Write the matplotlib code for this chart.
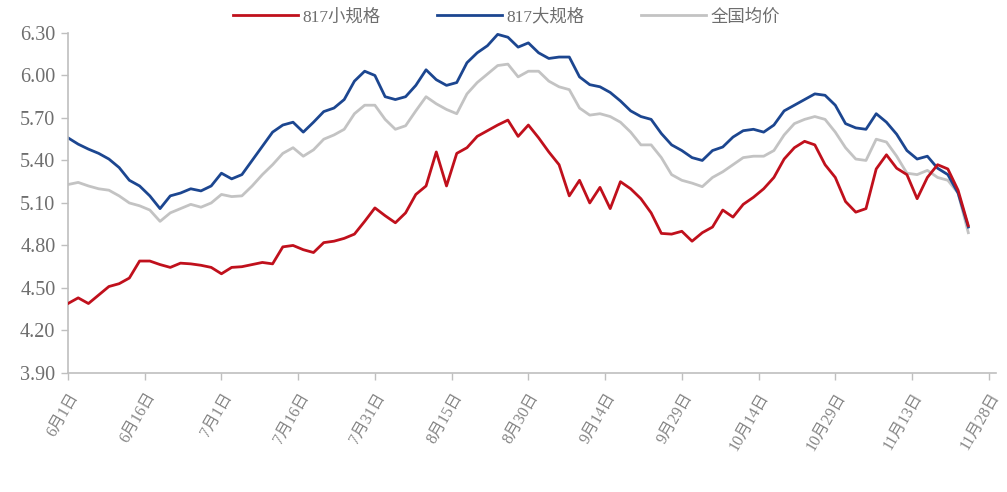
import numpy as np
import matplotlib
matplotlib.use("Agg")
from matplotlib import pyplot as plt

# days since 6月1日, one reading every two days
days = np.arange(0, 178, 2)

small_817 = [
    4.39, 4.43, 4.39, 4.45, 4.51, 4.53, 4.57, 4.69, 4.69, 4.665,
    4.645, 4.675, 4.67, 4.66, 4.645, 4.60, 4.645, 4.65, 4.665, 4.68,
    4.67, 4.79, 4.80, 4.77, 4.75, 4.82, 4.83, 4.85, 4.88, 4.97,
    5.065, 5.01, 4.96, 5.03, 5.16, 5.22, 5.46, 5.22, 5.45, 5.49,
    5.57, 5.61, 5.65, 5.685, 5.57, 5.65, 5.56, 5.46, 5.37, 5.15,
    5.26, 5.10, 5.21, 5.06, 5.25, 5.20, 5.13, 5.03, 4.885, 4.88,
    4.90, 4.83, 4.89, 4.93, 5.05, 5.00, 5.09, 5.14, 5.20, 5.28,
    5.41, 5.49, 5.535, 5.51, 5.37, 5.28, 5.11, 5.035, 5.06, 5.34,
    5.44, 5.345, 5.30, 5.13, 5.28, 5.37, 5.34, 5.19, 4.94,
]
large_817 = [
    5.56, 5.515, 5.48, 5.45, 5.41, 5.35, 5.26, 5.22, 5.15, 5.06,
    5.15, 5.17, 5.20, 5.185, 5.22, 5.31, 5.27, 5.30, 5.40, 5.50,
    5.60, 5.65, 5.67, 5.60, 5.67, 5.745, 5.77, 5.83, 5.96, 6.03,
    6.00, 5.85, 5.83, 5.85, 5.93, 6.04, 5.97, 5.93, 5.95, 6.09,
    6.16, 6.21, 6.29, 6.27, 6.20, 6.23, 6.16, 6.12, 6.13, 6.13,
    5.99, 5.935, 5.92, 5.88, 5.82, 5.75, 5.71, 5.69, 5.59, 5.51,
    5.47, 5.42, 5.40, 5.47, 5.495, 5.565, 5.61, 5.62, 5.60, 5.65,
    5.75, 5.79, 5.83, 5.87, 5.86, 5.79, 5.66, 5.63, 5.62, 5.73,
    5.67, 5.585, 5.47, 5.41, 5.43, 5.345, 5.30, 5.17, 4.93,
]
national_avg = [
    5.23, 5.245, 5.22, 5.20, 5.19, 5.15, 5.10, 5.08, 5.05, 4.97,
    5.03, 5.06, 5.09, 5.07, 5.10, 5.16, 5.145, 5.15, 5.22, 5.30,
    5.37, 5.45, 5.49, 5.43, 5.475, 5.55, 5.58, 5.62, 5.73, 5.79,
    5.79, 5.69, 5.62, 5.645, 5.75, 5.85, 5.80, 5.76, 5.73, 5.87,
    5.95, 6.01, 6.07, 6.08, 5.99, 6.03, 6.03, 5.96, 5.92, 5.90,
    5.77, 5.72, 5.73, 5.71, 5.67, 5.60, 5.51, 5.51, 5.42, 5.30,
    5.26, 5.24, 5.215, 5.28, 5.32, 5.37, 5.42, 5.43, 5.43, 5.47,
    5.58, 5.66, 5.69, 5.71, 5.69, 5.60, 5.49, 5.41, 5.40, 5.55,
    5.53, 5.43, 5.31, 5.30, 5.33, 5.28, 5.26, 5.17, 4.89,
]

tick_days = np.arange(0, 181, 15)
tick_labels = ['6月1日', '6月16日', '7月1日', '7月16日', '7月31日', '8月15日', '8月30日',
               '9月14日', '9月29日', '10月14日', '10月29日', '11月13日', '11月28日']
y_ticks = np.arange(3.90, 6.31, 0.30)

RED = '#c0101c'
BLUE = '#1c4690'
GRAY = '#c3c3c3'
AXIS = '#bfbfbf'
TEXT = '#6e6e6e'
FONTS = ['Liberation Serif', 'Noto Sans CJK SC']

fig = plt.figure(figsize=(10.07, 4.92), dpi=100)
ax = fig.add_axes([0.0675, 0.242, 0.922, 0.691])

l3, = ax.plot(days, national_avg, color=GRAY, lw=2.0, zorder=1)
l2, = ax.plot(days, large_817, color=BLUE, lw=2.0, zorder=2)
l1, = ax.plot(days, small_817, color=RED, lw=2.0, zorder=3)

ax.set_xlim(0, 181.5)
ax.set_ylim(3.90, 6.30)
ax.set_yticks(y_ticks)
ax.set_yticklabels([f'{v:.2f}' for v in y_ticks], family='Liberation Serif',
                   fontsize=14.5, color=TEXT)
ax.set_xticks(tick_days)
ax.set_xticklabels(tick_labels, rotation=60, ha='right', rotation_mode='anchor',
                   family=FONTS, fontsize=11.5, color='#858585')

for s in ['top', 'right']:
    ax.spines[s].set_visible(False)
for s in ['left', 'bottom']:
    ax.spines[s].set_color(AXIS)
    ax.spines[s].set_linewidth(1.2)
ax.tick_params(axis='both', color=AXIS, length=5, width=1.0)
ax.tick_params(axis='x', pad=7)
ax.tick_params(axis='y', pad=4)

leg = fig.legend([l1, l2, l3], ['817小规格', '817大规格', '全国均价'],
                 loc='center', bbox_to_anchor=(0.503, 0.965), ncol=3, frameon=False,
                 prop={'family': FONTS, 'size': 12.5},
                 handlelength=3.7, columnspacing=3.3, handletextpad=0.25)
for t in leg.get_texts():
    t.set_color(TEXT)

fig.savefig('out.png', dpi=100)
